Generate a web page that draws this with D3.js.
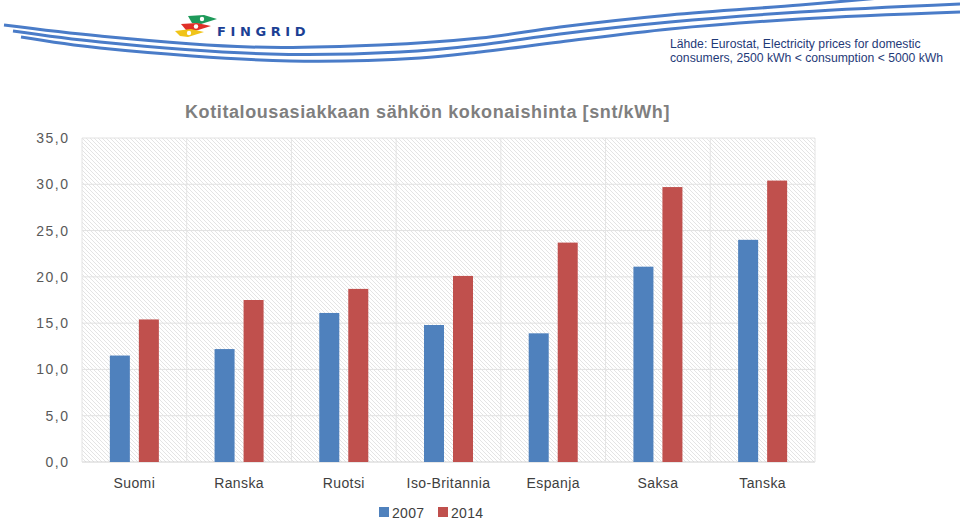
<!DOCTYPE html>
<html><head><meta charset="utf-8">
<script src="https://cdn.jsdelivr.net/npm/d3@7/dist/d3.min.js"></script>
<style>
body{margin:0;background:#fff;}
svg{display:block;font-family:"Liberation Sans",Arial,sans-serif;}
</style></head>
<body>
<svg id="chart" width="960" height="520"></svg>
<script>
const categories = ["Suomi","Ranska","Ruotsi","Iso-Britannia","Espanja","Saksa","Tanska"];
const seriesNames = ["2007","2014"];
const values2007 = [11.5,12.2,16.1,14.8,13.9,21.1,24.0];
const values2014 = [15.4,17.5,18.7,20.1,23.7,29.7,30.4];
const yTicks = [0,5,10,15,20,25,30,35];
const colors = ["#4F81BD","#C0504D"];
const titleText = "Kotitalousasiakkaan sähkön kokonaishinta [snt/kWh]";
const sourceLines = ["Lähde: Eurostat, Electricity prices for domestic","consumers, 2500 kWh < consumption < 5000 kWh"];

(function(){
const svg = d3.select("#chart");
const defs = svg.append("defs");
const pat = defs.append("pattern").attr("id","hatch").attr("patternUnits","userSpaceOnUse")
  .attr("width",4).attr("height",4);
pat.append("rect").attr("width",4).attr("height",4).attr("fill","#ffffff");
pat.append("path").attr("d","M-1,-1 L5,5 M-1,3 L1,5 M3,-1 L5,1").attr("stroke","#e4e4e4").attr("stroke-width",1);

// header swooshes (decorative banner)
const swooshes = [
 [[4,25],[100,36],[250,47],[380,45],[480,38],[560,27],[670,15],[800,5],[880,-2]],
 [[13,31],[100,42],[270,54],[400,52],[480,45],[560,34],[670,22],[800,12],[960,4]],
 [[21,37],[100,48],[290,61],[420,58],[480,52],[560,42],[670,29],[800,19],[960,12]]
];
const swLine = d3.line().curve(d3.curveCatmullRom.alpha(0.5));
svg.selectAll("path.sw").data(swooshes).enter().append("path").attr("class","sw")
  .attr("d",d=>swLine(d)).attr("fill","none").attr("stroke","#4a7cc8").attr("stroke-width",3);

// logo
const logo = svg.append("g");
logo.append("path").attr("d","M188,16 L204,15 L217,19 L201,24 L192,23 Z").attr("fill","#1e9a5a");
logo.append("path").attr("d","M181,24 L197,23 L211,26 L195,31 L186,30 Z").attr("fill","#e03028");
logo.append("path").attr("d","M175,31 L191,29 L204,32 L188,37 L180,36 Z").attr("fill","#f0c419");
logo.append("circle").attr("cx",202).attr("cy",19).attr("r",2.2).attr("fill","#fff");
logo.append("circle").attr("cx",196).attr("cy",26.5).attr("r",2.2).attr("fill","#fff");
logo.append("circle").attr("cx",189).attr("cy",33).attr("r",2.2).attr("fill","#fff");
logo.append("text").attr("x",217).attr("y",36).text("FINGRID")
  .attr("font-size",13).attr("font-weight","bold").attr("fill","#1c3f94")
  .attr("letter-spacing",4.6).attr("font-family","'DejaVu Sans',sans-serif");

// source text
svg.selectAll("text.src").data(sourceLines).enter().append("text").attr("class","src")
  .attr("x",670).attr("y",(d,i)=>48+i*13.5).text(d=>d)
  .attr("font-size",12.2).attr("fill","#1f3a78");

// chart
const pLeft=82, pRight=815, pTop=138, pBottom=462;
const y = d3.scaleLinear().domain([0,35]).range([pBottom,pTop]);
const x0 = d3.scaleBand().domain(categories).range([pLeft,pRight]).padding(0);
const x1 = d3.scaleBand().domain(seriesNames).range([0,x0.bandwidth()]).paddingInner(0.31).paddingOuter(0.96);

svg.append("rect").attr("x",pLeft).attr("y",pTop).attr("width",pRight-pLeft).attr("height",pBottom-pTop)
  .attr("fill","url(#hatch)");

// gridlines
svg.selectAll("line.hg").data(yTicks).enter().append("line").attr("class","hg")
  .attr("x1",pLeft).attr("x2",pRight).attr("y1",d=>y(d)).attr("y2",d=>y(d))
  .attr("stroke",d=>d===0?"#d0d0d0":"#e2e2e2").attr("stroke-width",1);
const bounds = categories.map(c=>x0(c)).concat([pRight]);
svg.selectAll("line.vg").data(bounds).enter().append("line").attr("class","vg")
  .attr("x1",d=>d).attr("x2",d=>d).attr("y1",pTop).attr("y2",pBottom)
  .attr("stroke","#e4e4e4").attr("stroke-width",1);

// bars
const data = categories.map((c,i)=>({cat:c, vals:[values2007[i],values2014[i]]}));
const g = svg.selectAll("g.cat").data(data).enter().append("g").attr("class","cat")
  .attr("transform",d=>`translate(${x0(d.cat)},0)`);
g.selectAll("rect").data(d=>d.vals.map((v,j)=>({s:seriesNames[j],v,j}))).enter().append("rect")
  .attr("x",d=>x1(d.s)).attr("width",x1.bandwidth())
  .attr("y",d=>y(d.v)).attr("height",d=>pBottom-y(d.v)).attr("fill",d=>colors[d.j]);

// y axis
const yAxis = d3.axisLeft(y).tickValues(yTicks).tickSize(0).tickPadding(12.5)
  .tickFormat(d=>d3.format(".1f")(d).replace(".",","));
const ya = svg.append("g").attr("transform",`translate(${pLeft},0)`).call(yAxis);
ya.select(".domain").remove();
ya.selectAll("text").attr("font-size",14).attr("fill","#595959").attr("letter-spacing",1.5)
  .attr("font-family","'Liberation Sans',Arial,sans-serif");

// x axis
const xAxis = d3.axisBottom(x0).tickSize(0).tickPadding(16);
const xa = svg.append("g").attr("transform",`translate(0,${pBottom})`).call(xAxis);
xa.select(".domain").remove();
xa.selectAll("text").attr("font-size",14).attr("fill","#404040").attr("letter-spacing",0.4)
  .attr("font-family","'Liberation Sans',Arial,sans-serif");

// title
const t = svg.append("text").attr("x",185).attr("y",118).text(titleText)
  .attr("font-size",18).attr("font-weight","bold").attr("fill","#7f7f7f");
const tl = t.node().getComputedTextLength();
t.attr("letter-spacing",(485-tl)/titleText.length);

// legend
const lg = svg.append("g");
const lx = [379,438];
seriesNames.forEach((s,i)=>{
  lg.append("rect").attr("x",lx[i]).attr("y",507).attr("width",10).attr("height",10).attr("fill",colors[i]);
  lg.append("text").attr("x",lx[i]+13).attr("y",518).text(s).attr("font-size",14).attr("fill","#404040").attr("letter-spacing",0.3);
});
})();
</script>
</body></html>
